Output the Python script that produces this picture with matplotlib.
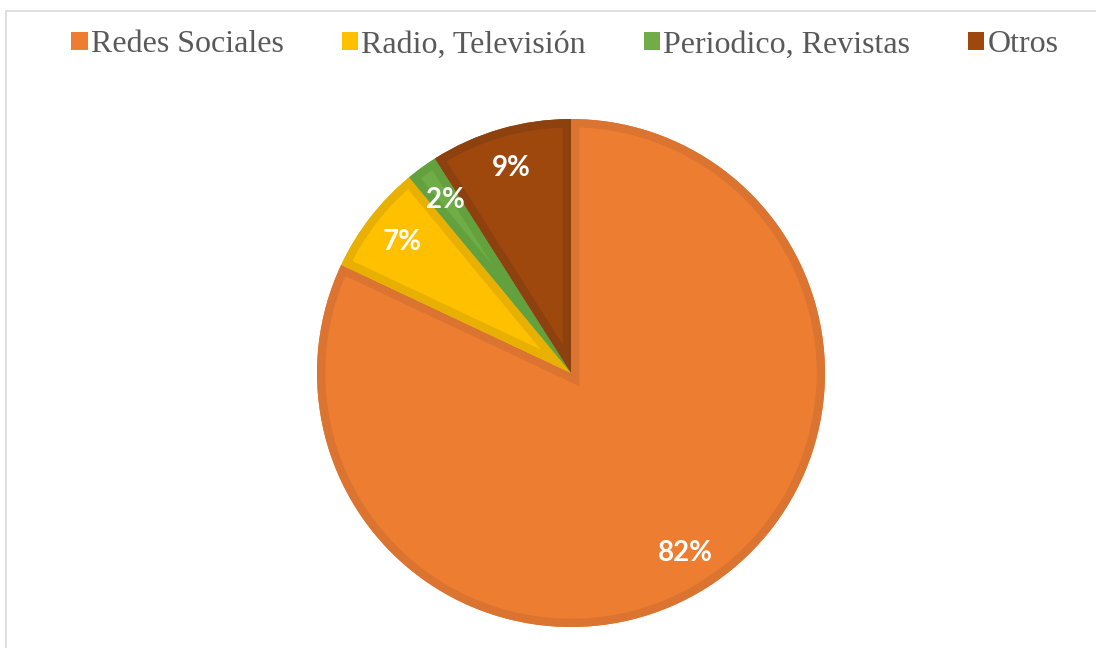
import matplotlib
matplotlib.use("Agg")
import matplotlib.pyplot as plt
from matplotlib.patches import Rectangle, Wedge
from matplotlib.font_manager import FontProperties

categories = ["Redes Sociales", "Radio, Televisión", "Periodico, Revistas", "Otros"]
values = [82, 7, 2, 9]
fill_colors = ["#ED7D31", "#FFC000", "#70AD47", "#9E480E"]
edge_colors = ["#DB7430", "#E8B000", "#63A03E", "#8D410E"]

W, H = 1096, 648
fig = plt.figure(figsize=(W / 100, H / 100), dpi=100)
fig.patch.set_facecolor("white")

# light chart-area border (top and left visible)
fig.add_artist(Rectangle((6 / W, -0.1), 1.2, (H - 11) / H + 0.1,
                         transform=fig.transFigure, fill=False,
                         edgecolor="#D9D9D9", linewidth=1.2))

cx, cy, r = 571, 373, 254
ax = fig.add_axes([(cx - r) / W, (H - cy - r) / H, 2 * r / W, 2 * r / H])

wedges, texts, autotexts = ax.pie(
    values, colors=fill_colors, startangle=90, counterclock=False,
    radius=1.0, autopct=lambda p: f"{p:.0f}%", pctdistance=0.84,
    wedgeprops=dict(linewidth=0),
    textprops=dict(color="white", fontsize=20, fontweight="bold", family="Lato"))

# darker border drawn only on the inside of every slice
for w, ec in zip(wedges, edge_colors):
    border = Wedge(w.center, w.r, w.theta1, w.theta2, fill=False,
                   edgecolor=ec, linewidth=12, zorder=w.get_zorder() + 0.1)
    ax.add_patch(border)
    border.set_clip_path(w)
for t in autotexts:
    t.set_zorder(5)

ax.set_xlim(-1, 1)
ax.set_ylim(-1, 1)
ax.set_aspect("equal")
ax.axis("off")

legend_font = FontProperties(family=["Liberation Serif", "DejaVu Serif"], size=23)
handles = [Rectangle((0, 0), 1, 1, facecolor=c, edgecolor="none") for c in fill_colors]
leg = fig.legend(handles, categories, loc="center", bbox_to_anchor=(565 / W, 1 - 45 / H),
                 ncol=4, frameon=False, handlelength=0.52, handleheight=0.52,
                 handletextpad=0.1, columnspacing=1.8, prop=legend_font)
for t in leg.get_texts():
    t.set_color("#595959")

fig.savefig("out.png", dpi=100, facecolor="white")
